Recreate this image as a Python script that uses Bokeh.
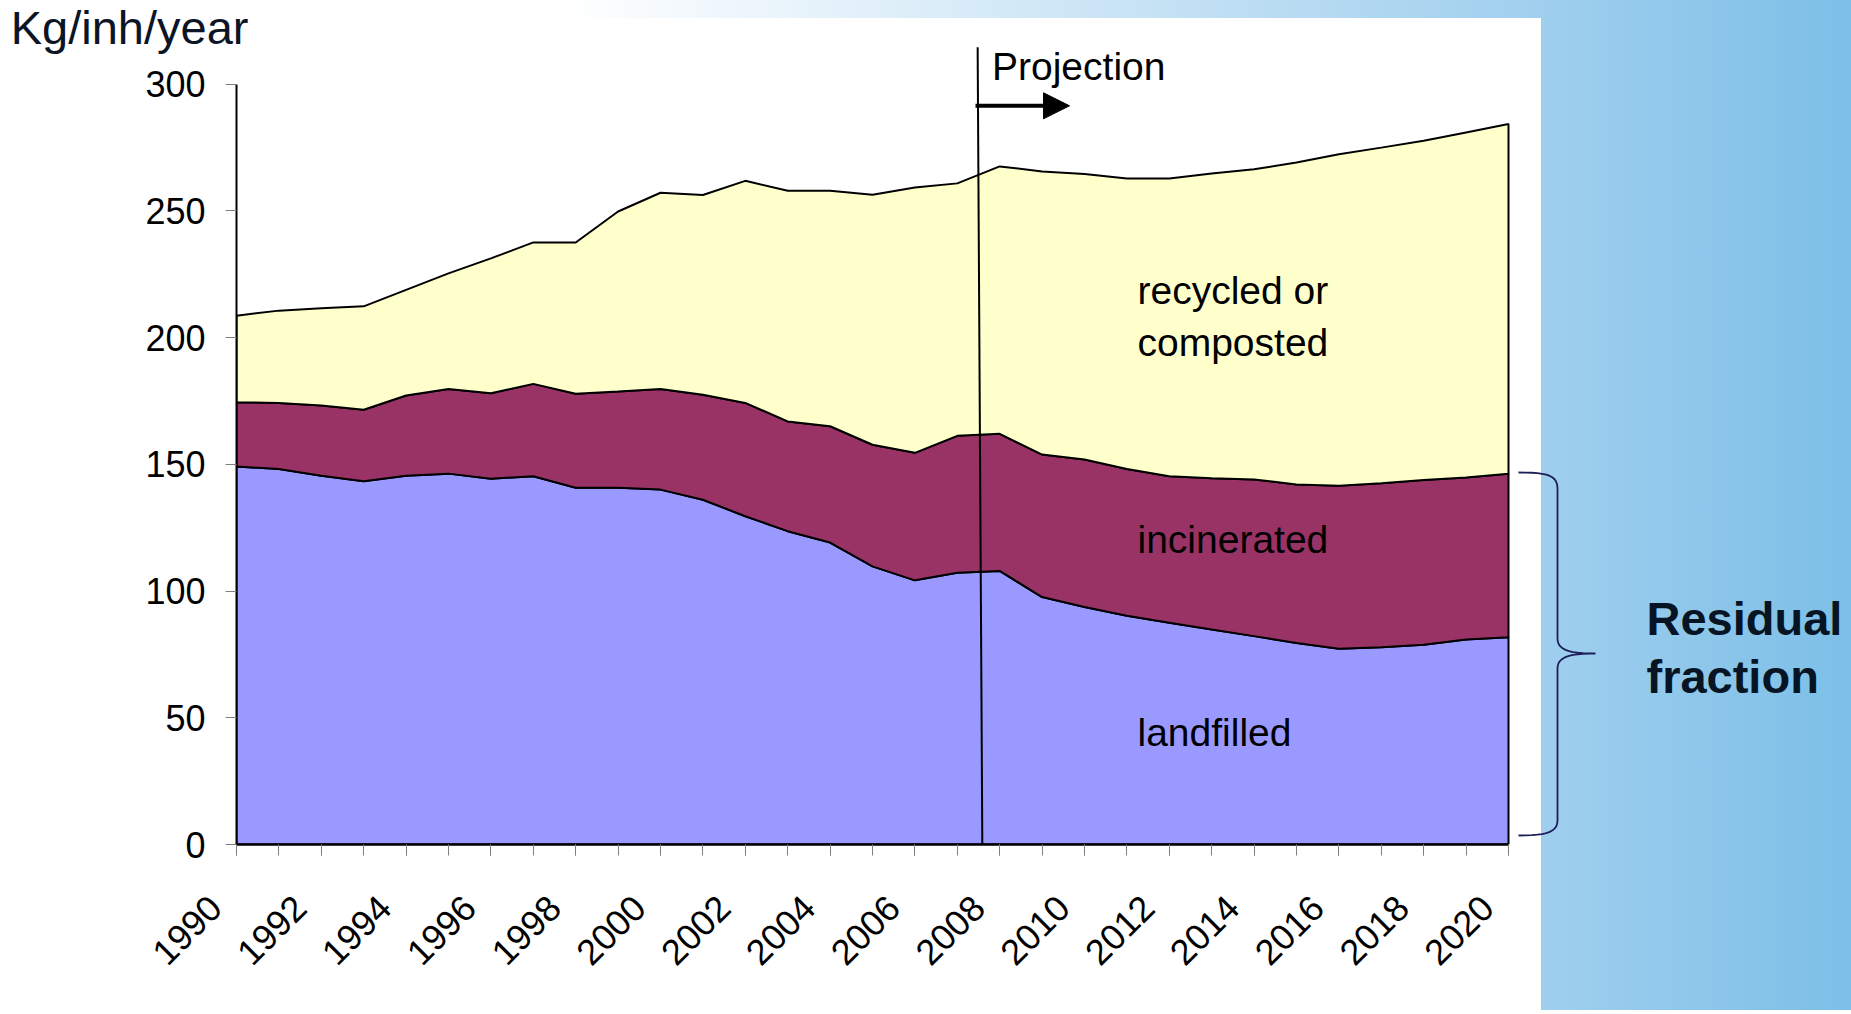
import numpy as np
from bokeh.plotting import figure
from bokeh.models import (Range1d, FixedTicker, Label, Arrow, NormalHead, LinearAxis,
                          CustomJSTickFormatter)
from bokeh.embed import file_html
from bokeh.resources import INLINE

# ---------------- data (kg per inhabitant per year) ----------------
years = list(range(1990, 2021))
landfilled = [149.1, 148.1, 145.5, 143.3, 145.5, 146.3, 144.3, 145.3, 140.7, 140.7,
              140.0, 136.0, 129.5, 123.6, 119.1, 109.7, 104.2, 107.2, 107.9, 97.6,
              93.7, 90.2, 87.5, 84.8, 82.2, 79.5, 77.2, 77.8, 78.8, 80.9, 81.8]
incinerated = [25.4, 26.1, 27.7, 28.2, 31.6, 33.4, 33.7, 36.4, 37.1, 38.0,
               39.7, 41.4, 44.7, 43.3, 45.9, 48.0, 50.3, 54.0, 54.1, 56.2,
               58.2, 57.9, 57.8, 59.7, 61.8, 62.5, 64.3, 64.7, 65.0, 63.9, 64.5]
recycled = [34.1, 36.4, 38.3, 40.8, 41.7, 45.6, 53.2, 55.8, 59.7, 71.0,
            77.4, 78.8, 87.6, 91.0, 92.9, 98.6, 104.7, 99.6, 105.5, 111.7,
            112.6, 114.6, 117.4, 120.2, 122.4, 127.0, 130.8, 132.4, 133.8, 136.1, 137.9]
y_ticks = [0, 50, 100, 150, 200, 250, 300]
x_label_years = years[::2]
x_labels = [str(y) for y in x_label_years]
y_title = "Kg/inh/year"
projection_line = (2007.48, 2007.59)   # start of projection (top, bottom)

# ---------------- layout helpers (page pixels -> data) ----------------
W, H = 1851, 1010
LEFT = 236            # page x of the y axis
AXIS_Y = 844          # page y of the x axis
BOTTOM = H - AXIS_Y
PX_YEAR, PX_UNIT = 42.4, 2.535
x_end = 1990 + (W - LEFT) / PX_YEAR
y_end = AXIS_Y / PX_UNIT


def X(page_x):
    return 1990 + (page_x - LEFT) / PX_YEAR


def Y(page_y):
    return (AXIS_Y - page_y) / PX_UNIT


def YB(baseline, size):
    # position of a label whose text baseline should sit at page y = baseline
    return Y(baseline - 0.34 * size)


FONT = "Liberation Sans"
bg = ("linear-gradient(#ffffff, #ffffff) 0px 18px / 1541px 100% no-repeat, "
      "linear-gradient(to right, #ffffff 0px, #ffffff 560px, #a0cfee 1541px, #7cbfe7 1851px)")

p = figure(width=W, height=H, x_range=Range1d(1990, x_end), y_range=Range1d(0, y_end),
           output_backend="svg", toolbar_location=None,
           min_border_left=LEFT, min_border_bottom=BOTTOM, min_border_top=0, min_border_right=0,
           styles={"background": bg})
p.background_fill_color = None
p.border_fill_color = None
p.outline_line_color = None
p.xgrid.visible = False
p.ygrid.visible = False

# stacked areas
lf = np.array(landfilled)
b2 = lf + np.array(incinerated)
b3 = b2 + np.array(recycled)
xs_poly = years + years[::-1]
p.patch(xs_poly, list(lf) + [0] * len(years), fill_color="#9999FF", line_color="black", line_width=2)
p.patch(xs_poly, list(b2) + list(lf[::-1]), fill_color="#993366", line_color="black", line_width=2)
p.patch(xs_poly, list(b3) + list(b2[::-1]), fill_color="#FFFFCC", line_color="black", line_width=2)

# projection marker
p.segment(x0=[projection_line[0]], y0=[Y(46.7)], x1=[projection_line[1]], y1=[0],
          line_color="black", line_width=2)
p.add_layout(Arrow(end=NormalHead(size=26, fill_color="black", line_color="black"),
                   x_start=X(975), y_start=Y(105.3), x_end=X(1069), y_end=Y(105.3),
                   line_width=4, line_color="black"))
p.add_layout(Label(x=X(991.5), y=YB(79.5, 39), text="Projection", text_font=FONT,
                   text_font_size="39px", text_baseline="alphabetic", text_color="black"))

# series labels
for txt, base in [("recycled or", 303), ("composted", 355.5), ("incinerated", 551.8), ("landfilled", 745.7)]:
    p.add_layout(Label(x=X(1137), y=YB(base, 39), text=txt, text_font=FONT, text_font_size="39px",
                       text_baseline="alphabetic", text_color="black"))


# brace (residual fraction)
def bez(p0, p1, p2, p3, n=12):
    t = np.linspace(0, 1, n)[:, None]
    P = [np.array(q, float) for q in (p0, p1, p2, p3)]
    return ((1 - t) ** 3 * P[0] + 3 * (1 - t) ** 2 * t * P[1] + 3 * (1 - t) * t ** 2 * P[2] + t ** 3 * P[3])


seg = [
    bez((1518, 472), (1545, 472), (1557, 474), (1557, 488)),
    bez((1557, 488), (1557, 560), (1557, 600), (1557, 638)),
    bez((1557, 638), (1557, 650), (1570, 653), (1595, 653)),
    bez((1595, 653), (1570, 653), (1557, 656), (1557, 668)),
    bez((1557, 668), (1557, 720), (1557, 780), (1557, 820)),
    bez((1557, 820), (1557, 832), (1545, 835), (1518, 835)),
]
pts = np.vstack(seg)
p.line([X(v) for v in pts[:, 0]], [Y(v) for v in pts[:, 1]], line_color="#1e1e5a", line_width=1.8)

for txt, base in [("Residual", 634), ("fraction", 692)]:
    p.add_layout(Label(x=X(1646), y=YB(base, 47), text=txt, text_font=FONT, text_font_size="47px",
                       text_font_style="bold", text_baseline="alphabetic", text_color="#061423"))

# ---------------- axes ----------------
ya = p.yaxis[0]
ya.ticker = FixedTicker(ticks=y_ticks)
ya.bounds = (0, 300)
ya.axis_line_width = 2
ya.axis_line_color = "black"
ya.major_tick_line_color = "#808080"
ya.major_tick_out = 11
ya.major_tick_in = 0
ya.minor_tick_line_color = None
ya.major_label_standoff = 20
ya.major_label_text_font = FONT
ya.major_label_text_font_size = "36px"
ya.major_label_text_color = "black"

# y-axis title, carried by an extra (line-less) left axis so it sits above the tick labels
ta = LinearAxis(ticker=FixedTicker(ticks=[Y(26.2)]),
                formatter=CustomJSTickFormatter(args=dict(label=y_title), code="return label"))
ta.axis_line_color = None
ta.major_tick_line_color = None
ta.minor_tick_line_color = None
ta.major_tick_out = 0
ta.major_tick_in = 0
ta.minor_tick_out = 0
ta.minor_tick_in = 0
ta.major_label_standoff = -106
ta.major_label_text_font = FONT
ta.major_label_text_font_size = "47px"
ta.major_label_text_color = "#0b1526"
p.add_layout(ta, "left")

# x axis: a tick every year, a label every second year, rotated 45 degrees.
# Trailing no-break spaces pull each label left of its tick, as in the original.
PAD = "\u00a0" * 3
xa = p.xaxis[0]
xa.ticker = FixedTicker(ticks=x_label_years, minor_ticks=years)
xa.formatter = CustomJSTickFormatter(args=dict(labels=[s + PAD for s in x_labels]),
                                     code="return labels[index]")
xa.bounds = (1990, 2020)
xa.axis_line_width = 2.5
xa.axis_line_color = "black"
xa.major_tick_line_color = "#808080"
xa.minor_tick_line_color = "#808080"
xa.major_tick_out = 11
xa.major_tick_in = 0
xa.minor_tick_out = 11
xa.minor_tick_in = 0
xa.major_label_orientation = np.pi / 4
xa.major_label_standoff = 25
xa.major_label_text_font = FONT
xa.major_label_text_font_size = "36px"
xa.major_label_text_color = "black"

open("out.html", "w").write(file_html(p, INLINE))
